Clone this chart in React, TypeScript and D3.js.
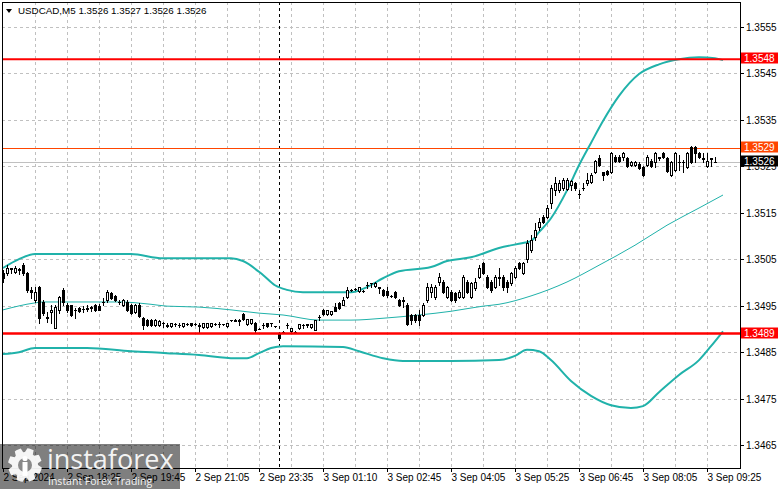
import React from "react";
import * as d3 from "d3";

const W = 781;
const H = 489;

// ---- candle data (USDCAD M5), one entry per bar ----
const opens = [
  1.3502, 1.3502, 1.35031, 1.35022, 1.35029, 1.35037, 1.3502, 1.34984, 1.34962, 1.3499,
  1.34958, 1.34925, 1.34936, 1.34902, 1.34941, 1.34984, 1.34951, 1.34951, 1.34941, 1.34945,
  1.34943, 1.34943, 1.34947, 1.34951, 1.3495, 1.34958, 1.34962, 1.34977, 1.34971, 1.34958,
  1.34951, 1.34958, 1.34951, 1.34936, 1.34951, 1.34923, 1.34919, 1.34919, 1.34908, 1.34908,
  1.34913, 1.34908, 1.34906, 1.3491, 1.34908, 1.34906, 1.3491, 1.34913, 1.3491, 1.34908,
  1.34904, 1.34904, 1.34906, 1.3491, 1.3491, 1.3491, 1.34906, 1.34919, 1.34919, 1.34919,
  1.34932, 1.3491, 1.34913, 1.34913, 1.349, 1.34908, 1.34913, 1.34913, 1.34906, 1.34891,
  1.34893, 1.34908, 1.34895, 1.34893, 1.34902, 1.34908, 1.3491, 1.34904, 1.34898, 1.34925,
  1.34941, 1.34932, 1.34932, 1.34947, 1.34956, 1.34951, 1.34968, 1.34984, 1.34986, 1.34981,
  1.34981, 1.34994, 1.34999, 1.34992, 1.3499, 1.34984, 1.34981, 1.34971, 1.34979, 1.34962,
  1.34962, 1.34951, 1.3493, 1.3493, 1.3493, 1.3493, 1.34962, 1.34979, 1.34968, 1.35001,
  1.35001, 1.34968, 1.34979, 1.34977, 1.34968, 1.34968, 1.35001, 1.34968, 1.34988, 1.35011,
  1.35042, 1.35011, 1.35001, 1.3499, 1.35011, 1.35011, 1.35001, 1.34999, 1.35011, 1.35042,
  1.3502, 1.3505, 1.3507, 1.35097, 1.35119, 1.3514, 1.3514, 1.35171, 1.35198, 1.35198,
  1.35203, 1.35201, 1.35209, 1.35214, 1.3519, 1.35203, 1.35214, 1.35216, 1.35237, 1.35267,
  1.35237, 1.35239, 1.35237, 1.35269, 1.35269, 1.35269, 1.35267, 1.35252, 1.35252, 1.35254,
  1.35248, 1.35252, 1.35261, 1.35259, 1.35269, 1.35278, 1.35267, 1.35231, 1.35241, 1.35259,
  1.35259, 1.35248, 1.35291, 1.35291, 1.35278, 1.35267, 1.3525, 1.35267, 1.3526,
];
const highs = [
  1.35027, 1.35037, 1.35031, 1.35035, 1.35031, 1.35042, 1.35022, 1.3499, 1.3499, 1.34992,
  1.34962, 1.34936, 1.34951, 1.34951, 1.34971, 1.34988, 1.34956, 1.34951, 1.34945, 1.34947,
  1.34949, 1.34951, 1.34949, 1.34953, 1.34953, 1.34966, 1.34984, 1.34979, 1.34973, 1.34962,
  1.34964, 1.34962, 1.34953, 1.34953, 1.34956, 1.34925, 1.34921, 1.34921, 1.34921, 1.34919,
  1.34915, 1.34913, 1.34913, 1.34913, 1.34913, 1.34913, 1.34913, 1.34913, 1.34912, 1.34913,
  1.34913, 1.34913, 1.34913, 1.34912, 1.34915, 1.34911, 1.34913, 1.3492, 1.34921, 1.34921,
  1.34934, 1.34921, 1.34921, 1.34915, 1.34901, 1.34913, 1.34913, 1.34913, 1.34907, 1.34893,
  1.34895, 1.34913, 1.34902, 1.34895, 1.3491, 1.3491, 1.3491, 1.3491, 1.34919, 1.3493,
  1.34943, 1.34941, 1.34938, 1.34956, 1.34958, 1.34968, 1.3499, 1.34986, 1.34988, 1.3499,
  1.34983, 1.35001, 1.34999, 1.35001, 1.3499, 1.34986, 1.3499, 1.34973, 1.34981, 1.34964,
  1.34968, 1.34956, 1.34932, 1.34932, 1.34941, 1.34956, 1.34999, 1.34996, 1.34994, 1.3502,
  1.35005, 1.34992, 1.34984, 1.34979, 1.34984, 1.35016, 1.35005, 1.35001, 1.35009, 1.35037,
  1.35044, 1.35016, 1.35005, 1.35016, 1.35031, 1.35016, 1.35005, 1.35022, 1.35035, 1.35044,
  1.35044, 1.35091, 1.35102, 1.35128, 1.35138, 1.35145, 1.35166, 1.35209, 1.35226, 1.3522,
  1.35224, 1.35224, 1.3522, 1.35216, 1.35198, 1.35214, 1.35235, 1.35235, 1.35263, 1.35274,
  1.35237, 1.35241, 1.3528, 1.35274, 1.35274, 1.3528, 1.35269, 1.35261, 1.35261, 1.35259,
  1.3525, 1.35274, 1.35265, 1.3528, 1.3527, 1.3528, 1.35269, 1.35261, 1.3528, 1.35274,
  1.35263, 1.3528, 1.35293, 1.35293, 1.3528, 1.35278, 1.35278, 1.35268, 1.3527,
];
const lows = [
  1.35001, 1.35016, 1.3502, 1.3502, 1.35018, 1.35016, 1.34979, 1.34966, 1.34958, 1.34913,
  1.3493, 1.34915, 1.34913, 1.34902, 1.34934, 1.34951, 1.34936, 1.34928, 1.34923, 1.34936,
  1.34936, 1.34938, 1.34938, 1.34938, 1.34941, 1.34951, 1.34958, 1.34964, 1.3496, 1.34953,
  1.34949, 1.34938, 1.34932, 1.34934, 1.34925, 1.349, 1.34906, 1.34906, 1.34906, 1.34906,
  1.34904, 1.34904, 1.34904, 1.34906, 1.34904, 1.34904, 1.34908, 1.34906, 1.34908, 1.34891,
  1.34902, 1.34902, 1.34904, 1.34908, 1.34904, 1.34909, 1.34904, 1.34918, 1.34917, 1.34908,
  1.34919, 1.34908, 1.3491, 1.34891, 1.34899, 1.34902, 1.34904, 1.34906, 1.34905, 1.34876,
  1.34891, 1.34902, 1.34893, 1.34891, 1.349, 1.34902, 1.34904, 1.34902, 1.34897, 1.34919,
  1.3493, 1.3493, 1.3493, 1.34938, 1.34943, 1.34951, 1.34966, 1.34982, 1.34984, 1.34979,
  1.34979, 1.34988, 1.3499, 1.3499, 1.34977, 1.34971, 1.34968, 1.34969, 1.34966, 1.34949,
  1.34947, 1.34908, 1.3491, 1.34915, 1.34908, 1.34928, 1.34958, 1.34968, 1.34964, 1.34994,
  1.34977, 1.34966, 1.3496, 1.34958, 1.34966, 1.34966, 1.34977, 1.34966, 1.34984, 1.35009,
  1.35018, 1.34988, 1.34979, 1.34988, 1.34994, 1.34984, 1.34979, 1.34994, 1.35009, 1.35029,
  1.35018, 1.35044, 1.35065, 1.35091, 1.35113, 1.35128, 1.35138, 1.3516, 1.35188, 1.35194,
  1.35198, 1.35198, 1.35198, 1.35198, 1.35181, 1.35198, 1.35209, 1.35214, 1.35235, 1.3525,
  1.3522, 1.35231, 1.35235, 1.35259, 1.35259, 1.35263, 1.35248, 1.3525, 1.3525, 1.35244,
  1.35229, 1.3525, 1.35248, 1.35248, 1.35263, 1.35267, 1.35237, 1.35229, 1.35239, 1.35241,
  1.35237, 1.35246, 1.35257, 1.35259, 1.35267, 1.35259, 1.35248, 1.3525, 1.3526,
];
const closes = [
  1.35009, 1.35031, 1.35029, 1.35031, 1.35027, 1.3502, 1.34984, 1.34979, 1.34979, 1.34923,
  1.34934, 1.34923, 1.34941, 1.34947, 1.34968, 1.34958, 1.34941, 1.3493, 1.3494, 1.34938,
  1.34942, 1.34945, 1.34946, 1.34941, 1.34941, 1.34957, 1.34979, 1.34966, 1.34962, 1.34957,
  1.34962, 1.34941, 1.34934, 1.34951, 1.34928, 1.34908, 1.34908, 1.34908, 1.34919, 1.34917,
  1.34912, 1.34907, 1.34913, 1.3491, 1.34908, 1.34913, 1.3491, 1.34908, 1.3491, 1.34907,
  1.34913, 1.34913, 1.34913, 1.3491, 1.34911, 1.3491, 1.34913, 1.34919, 1.34918, 1.34918,
  1.34921, 1.34921, 1.34921, 1.34898, 1.349, 1.34909, 1.34906, 1.34912, 1.34906, 1.3488,
  1.34893, 1.34909, 1.34902, 1.34893, 1.3491, 1.34909, 1.34909, 1.3491, 1.34919, 1.34926,
  1.34932, 1.34941, 1.34938, 1.34938, 1.34945, 1.34962, 1.34984, 1.34984, 1.34986, 1.3499,
  1.34981, 1.34995, 1.34998, 1.34999, 1.34989, 1.34973, 1.34973, 1.34971, 1.34968, 1.34951,
  1.3496, 1.3491, 1.34919, 1.34919, 1.34919, 1.34951, 1.3499, 1.3499, 1.3499, 1.35011,
  1.34979, 1.3499, 1.34962, 1.34962, 1.34979, 1.35011, 1.34979, 1.34999, 1.35001, 1.35031,
  1.3502, 1.3499, 1.34984, 1.35011, 1.35009, 1.3499, 1.3499, 1.3502, 1.35031, 1.35031,
  1.35042, 1.35085, 1.35091, 1.35113, 1.3513, 1.3513, 1.3516, 1.35203, 1.35214, 1.35214,
  1.3522, 1.3522, 1.35218, 1.35203, 1.3519, 1.35202, 1.3522, 1.35231, 1.35261, 1.35252,
  1.35231, 1.35233, 1.35278, 1.35261, 1.35261, 1.35278, 1.3525, 1.35259, 1.35259, 1.35246,
  1.35231, 1.35269, 1.3525, 1.35278, 1.35268, 1.35269, 1.35239, 1.35259, 1.35278, 1.35258,
  1.35258, 1.35278, 1.35259, 1.35278, 1.35269, 1.35266, 1.35261, 1.35266, 1.3526,
];

// ---- indicator lines (bar index, price) ----
const upperBandBars = [0, 4, 8, 32, 40, 57, 60, 65, 68, 71, 75, 87, 91, 95, 99, 107, 111, 117, 124, 130, 132, 134, 137, 141, 144, 147, 150, 154, 159, 164, 169, 174, 178, 180];
const upperBandValues = [1.35031, 1.3505, 1.35061, 1.35061, 1.35052, 1.35052, 1.35046, 1.35016, 1.34994, 1.34984, 1.34979, 1.34979, 1.3499, 1.35009, 1.35024, 1.35033, 1.35046, 1.35054, 1.35074, 1.35085, 1.35089, 1.35108, 1.35138, 1.35198, 1.35252, 1.353, 1.35347, 1.35401, 1.35448, 1.35469, 1.3548, 1.35484, 1.35482, 1.35478];
const lowerBandBars = [0, 4, 8, 21, 32, 41, 49, 58, 61, 64, 67, 70, 85, 89, 95, 100, 112, 124, 128, 131, 134, 137, 142, 147, 152, 157, 160, 164, 169, 174, 177, 180];
const lowerBandValues = [1.34846, 1.3485, 1.34859, 1.34859, 1.34852, 1.34848, 1.34844, 1.34837, 1.34837, 1.34848, 1.34859, 1.34863, 1.34861, 1.34852, 1.34837, 1.34831, 1.34831, 1.34833, 1.34842, 1.34855, 1.34852, 1.34833, 1.34788, 1.34756, 1.34736, 1.3473, 1.34734, 1.34764, 1.34801, 1.34833, 1.34863, 1.34895];
const maBars = [0, 8, 10, 29, 37, 41, 49, 57, 64, 70, 79, 87, 95, 104, 112, 120, 124, 132, 141, 149, 158, 166, 174, 180];
const maValues = [1.34941, 1.34956, 1.34958, 1.34958, 1.34953, 1.34949, 1.34947, 1.34941, 1.34934, 1.3493, 1.34919, 1.34919, 1.34923, 1.3493, 1.34938, 1.34949, 1.34953, 1.34971, 1.35001, 1.35037, 1.3508, 1.35123, 1.3516, 1.35188];

// ---- axes ----
const timeLabels = ["2 Sep 2024", "2 Sep 18:25", "2 Sep 19:45", "2 Sep 21:05", "2 Sep 23:35", "3 Sep 01:10", "3 Sep 02:45", "3 Sep 04:05", "3 Sep 05:25", "3 Sep 06:45", "3 Sep 08:05", "3 Sep 09:25"];
const timeLabelBars = [0, 16, 32, 48, 64, 80, 96, 112, 128, 144, 160, 176];
const priceTicks = [1.3465, 1.3475, 1.3485, 1.3495, 1.3505, 1.3515, 1.3525, 1.3535, 1.3545, 1.3555];
const gridBarStep = 8;
const daySeparatorBar = 69;

// ---- levels ----
const resistance = 1.3548;
const support = 1.3489;
const askPrice = 1.3529;
const bidPrice = 1.3526;
const title = "USDCAD,M5  1.3526 1.3527 1.3526 1.3526";

const FONT = "'Liberation Sans', Arial, sans-serif";
const TEAL = "#20B2AA";

const L = 2, R = 740, T = 2, B = 468;

export default function App() {
  const x = d3.scaleLinear().domain([0, 178]).range([3, 715]);
  const y = d3.scaleLinear().domain([1.34601, 1.35603]).range([B, T]);

  const line = d3
    .line<[number, number]>()
    .x((d) => x(d[0]))
    .y((d) => y(d[1]))
    .curve(d3.curveMonotoneX);

  const upper = line(upperBandBars.map((b, i) => [b, upperBandValues[i]]))!;
  const lower = line(lowerBandBars.map((b, i) => [b, lowerBandValues[i]]))!;
  const ma = line(maBars.map((b, i) => [b, maValues[i]]))!;

  const gridBars: number[] = [];
  for (let b = gridBarStep; x(b) < R - 2; b += gridBarStep) gridBars.push(b);

  const fmt = d3.format(".4f");

  // gear shape for the watermark logo
  const gear = (() => {
    const cx = 25, cy = 465, rO = 17, rI = 13, teeth = 8;
    const pts: string[] = [];
    for (let k = 0; k < teeth; k++) {
      const a0 = (k / teeth) * Math.PI * 2;
      const step = (Math.PI * 2) / teeth;
      const angs = [a0, a0 + step * 0.18, a0 + step * 0.32, a0 + step * 0.68, a0 + step * 0.82];
      const rs = [rI, rO, rO, rO, rI];
      angs.forEach((a, idx) => {
        const r = idx === 0 ? rI : idx === 4 ? rI : rO;
        pts.push(`${cx + r * Math.cos(a)},${cy + r * Math.sin(a)}`);
      });
      void rs;
    }
    return "M" + pts.join("L") + "Z";
  })();

  const labelBox = (p: number, bg: string, key: string) => {
    const yy = Math.round(y(p));
    return (
      <g key={key}>
        <rect x={741} y={yy - 6.5} width={37} height={11} fill={bg} />
        <text x={744} y={yy + 2.5} fill="#fff" fontSize={10} fontFamily={FONT}>
          {fmt(p)}
        </text>
      </g>
    );
  };

  return (
    <svg
      width={W}
      height={H}
      viewBox={`0 0 ${W} ${H}`}
      style={{ position: "absolute", left: 0, top: 0, background: "#fff" }}
    >
      <rect x={0} y={0} width={W} height={H} fill="#fff" />

      {/* grid */}
      <g stroke="#C0C0C0" strokeDasharray="3,3" shapeRendering="crispEdges">
        {gridBars.map((b) => (
          <line key={"v" + b} x1={Math.round(x(b)) + 0.5} x2={Math.round(x(b)) + 0.5} y1={T} y2={B} />
        ))}
        {priceTicks.map((p) => (
          <line key={"h" + p} x1={L} x2={R} y1={Math.round(y(p)) + 0.5} y2={Math.round(y(p)) + 0.5} />
        ))}
      </g>

      {/* day separator */}
      <line
        x1={Math.round(x(daySeparatorBar)) + 0.5}
        x2={Math.round(x(daySeparatorBar)) + 0.5}
        y1={T}
        y2={B}
        stroke="#000"
        strokeDasharray="3,3"
        shapeRendering="crispEdges"
      />

      {/* ask / bid lines */}
      <line x1={L} x2={R} y1={Math.round(y(askPrice)) + 0.5} y2={Math.round(y(askPrice)) + 0.5} stroke="#FF4500" strokeWidth={1} />
      <line x1={L} x2={R} y1={Math.round(y(bidPrice)) + 0.5} y2={Math.round(y(bidPrice)) + 0.5} stroke="#C0C0C0" strokeWidth={1} />

      {/* indicators */}
      <path d={ma} fill="none" stroke={TEAL} strokeWidth={1} />
      <path d={upper} fill="none" stroke={TEAL} strokeWidth={2} />
      <path d={lower} fill="none" stroke={TEAL} strokeWidth={2} />

      {/* candles */}
      <g shapeRendering="crispEdges">
        {opens.map((o, i) => {
          const c = closes[i];
          const cx = Math.round(x(i));
          const yH = Math.round(y(highs[i]));
          const yL = Math.round(y(lows[i]));
          const yT = Math.round(y(Math.max(o, c)));
          const yBt = Math.round(y(Math.min(o, c)));
          const bull = c >= o;
          return (
            <g key={i}>
              <line x1={cx + 0.5} x2={cx + 0.5} y1={yH} y2={yL + 1} stroke="#000" />
              {yBt - yT < 1 ? (
                <line x1={cx - 1} x2={cx + 2} y1={yT + 0.5} y2={yT + 0.5} stroke="#000" />
              ) : (
                <rect x={cx - 0.5} y={yT + 0.5} width={2} height={yBt - yT} fill={bull ? "#fff" : "#000"} stroke="#000" />
              )}
            </g>
          );
        })}
      </g>

      {/* horizontal levels */}
      <line x1={L} x2={R} y1={y(resistance)} y2={y(resistance)} stroke="#FF0000" strokeWidth={2} />
      <line x1={L} x2={R} y1={y(support)} y2={y(support)} stroke="#FF0000" strokeWidth={2.5} />

      {/* frame */}
      <g stroke="#000" shapeRendering="crispEdges">
        <line x1={L + 0.5} x2={L + 0.5} y1={T} y2={B + 1} />
        <line x1={L} x2={R + 1} y1={T + 0.5} y2={T + 0.5} />
        <line x1={R + 0.5} x2={R + 0.5} y1={T} y2={B + 1} />
        <line x1={L} x2={R + 1} y1={B + 0.5} y2={B + 0.5} />
      </g>

      {/* price axis */}
      <g fontFamily={FONT} fontSize={10} fill="#000">
        {priceTicks.map((p) => (
          <g key={"pt" + p}>
            <line x1={R} x2={R + 4} y1={Math.round(y(p)) + 0.5} y2={Math.round(y(p)) + 0.5} stroke="#000" />
            <text x={746} y={Math.round(y(p)) + 4}>
              {fmt(p)}
            </text>
          </g>
        ))}
      </g>
      {labelBox(resistance, "#FF0000", "res")}
      {labelBox(askPrice, "#FF4500", "ask")}
      {labelBox(bidPrice, "#000000", "bid")}
      {labelBox(support, "#FF0000", "sup")}

      {/* time axis */}
      <g fontFamily={FONT} fontSize={10} fill="#000">
        {timeLabelBars.map((b, i) => (
          <g key={"tl" + b}>
            <line x1={Math.round(x(b)) + 0.5} x2={Math.round(x(b)) + 0.5} y1={B} y2={B + 4} stroke="#000" />
            <text x={Math.round(x(b)) + 0.5} y={481}>
              {timeLabels[i]}
            </text>
          </g>
        ))}
      </g>

      {/* title */}
      <path d="M6,9 L12,9 L9,13 Z" fill="#000" />
      <text x={18} y={14} fontFamily={FONT} fontSize={9.8} fill="#000">
        {title}
      </text>

      {/* watermark */}
      <rect x={0} y={444} width={180} height={45} fill="#000" fillOpacity={0.5} />
      <path d={gear} fill="#fff" fillOpacity={0.92} />
      <circle cx={25} cy={465} r={7} fill="#8a8a8a" />
      <rect x={22.5} y={462} width={5} height={14} fill="#fff" />
      <circle cx={25} cy={458.5} r={2.6} fill="#fff" />
      <text x={47} y={469} fontFamily="'Open Sans', sans-serif" fontSize={27} fill="#fff" fillOpacity={0.92}>
        instaforex
      </text>
      <text x={48} y={485} fontFamily="'Open Sans', sans-serif" fontSize={10.5} fill="#fff" fillOpacity={0.92}>
        Instant Forex Trading
      </text>
    </svg>
  );
}
